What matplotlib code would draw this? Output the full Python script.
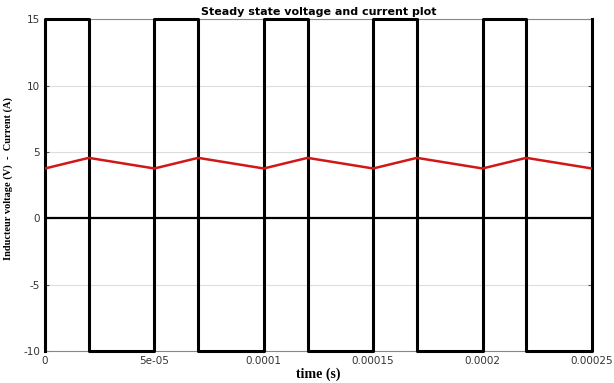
import matplotlib
matplotlib.use("Agg")
import matplotlib.pyplot as plt

# Data
t_voltage = [0, 0, 2e-5, 2e-5, 5e-5, 5e-5, 7e-5, 7e-5, 1e-4, 1e-4,
             1.2e-4, 1.2e-4, 1.5e-4, 1.5e-4, 1.7e-4, 1.7e-4, 2e-4, 2e-4,
             2.2e-4, 2.2e-4, 2.5e-4, 2.5e-4]
voltage = [-10, 15, 15, -10, -10, 15, 15, -10, -10, 15,
           15, -10, -10, 15, 15, -10, -10, 15,
           15, -10, -10, 15]
t_current = [0, 2e-5, 5e-5, 7e-5, 1e-4, 1.2e-4, 1.5e-4, 1.7e-4, 2e-4, 2.2e-4, 2.5e-4]
current = [3.75, 4.55, 3.75, 4.55, 3.75, 4.55, 3.75, 4.55, 3.75, 4.55, 3.75]
x_ticks = [0, 5e-5, 1e-4, 1.5e-4, 2e-4, 2.5e-4]
x_ticklabels = ["0", "5e-05", "0.0001", "0.00015", "0.0002", "0.00025"]
y_ticks = [-10, -5, 0, 5, 10, 15]
y_ticklabels = ["-10", "-5", "0", "5", "10", "15"]

fig = plt.figure(figsize=(6.14, 3.83), dpi=100)
ax = fig.add_axes([0.0733, 0.0836, 0.8907, 0.8664])

ax.grid(True, color="#dddddd", linewidth=0.8)
ax.set_axisbelow(True)
ax.axhline(0, color="black", linewidth=1.6, zorder=2)
ax.plot(t_voltage, voltage, color="black", linewidth=2.2, zorder=3, clip_on=False)
ax.plot(t_current, current, color="#d01818", linewidth=1.8, zorder=4)

ax.set_xlim(0, 2.5e-4)
ax.set_ylim(-10, 15)
ax.set_xticks(x_ticks)
ax.set_xticklabels(x_ticklabels)
ax.set_yticks(y_ticks)
ax.set_yticklabels(y_ticklabels)
ax.tick_params(direction="in", top=True, right=True, labelsize=7.5,
               labelcolor="#333333", color="#555555", length=3)
for s in ax.spines.values():
    s.set_color("#888888")
    s.set_linewidth(0.8)

ax.set_title("Steady state voltage and current plot", fontsize=8,
             fontweight="bold", pad=3)
ax.set_xlabel("time (s)", fontsize=10, fontweight="bold",
              family="Liberation Serif", labelpad=1)
ax.set_ylabel("Inducteur voltage (V)  -  Current (A)", fontsize=7.5,
              fontweight="bold", family="Liberation Serif")
ax.yaxis.set_label_coords(-0.058, 0.52)

fig.savefig("out.png", dpi=100)
